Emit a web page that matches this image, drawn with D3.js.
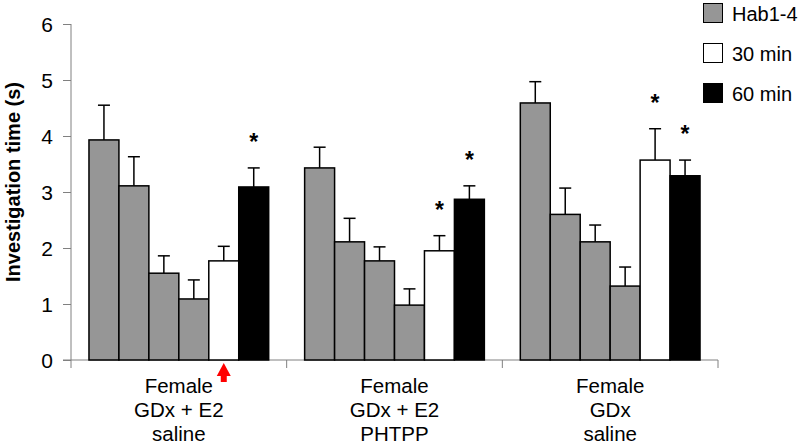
<!DOCTYPE html>
<html><head><meta charset="utf-8">
<script src="https://cdn.jsdelivr.net/npm/d3@7"></script>
<style>body{margin:0;background:#fff}svg{display:block}text{font-family:"Liberation Sans",Arial,sans-serif}</style>
</head><body><svg id="c" width="800" height="448"></svg>
<script>
const groups = ["g1","g2","g3"];
const groupLabels = [["Female","GDx + E2","saline"],["Female","GDx + E2","PHTPP"],["Female","GDx","saline"]];
const barKeys = ["h1","h2","h3","h4","m30","m60"];
const barSeries = ["Hab1-4","Hab1-4","Hab1-4","Hab1-4","30 min","60 min"];
const means = [
  [3.93,3.11,1.55,1.09,1.77,3.09],
  [3.43,2.11,1.77,0.98,1.95,2.87],
  [4.59,2.60,2.11,1.32,3.57,3.29]
];
const errs = [
  [0.62,0.52,0.31,0.34,0.26,0.34],
  [0.37,0.42,0.25,0.29,0.27,0.24],
  [0.38,0.47,0.30,0.34,0.56,0.28]
];
const stars = [
  [false,false,false,false,false,true],
  [false,false,false,false,true,true],
  [false,false,false,false,true,true]
];
const yTicks = [0,1,2,3,4,5,6];
const legendItems = ["Hab1-4","30 min","60 min"];
const colors = {"Hab1-4":"#969696","30 min":"#ffffff","60 min":"#000000"};

const svg = d3.select("#c");
const x0 = d3.scaleBand().domain(groups).range([71,718]);
const x1 = d3.scaleBand().domain(barKeys).range([0,x0.bandwidth()]).paddingOuter(0.6).paddingInner(0);
const y = d3.scaleLinear().domain([0,6]).range([360,24]);

// y axis
const ya = svg.append("g").attr("transform","translate(71,0)")
  .call(d3.axisLeft(y).tickValues(yTicks).tickSize(8).tickPadding(10).tickFormat(d3.format("d")));
ya.select(".domain").remove();
ya.selectAll(".tick line").attr("stroke","#808080");
ya.selectAll("text").attr("font-size",21).attr("fill","#000").attr("dy","0.36em").attr("font-family","Liberation Sans, Arial, sans-serif");
svg.append("line").attr("x1",71).attr("x2",71).attr("y1",y(6)).attr("y2",368).attr("stroke","#808080");

// x axis
svg.append("line").attr("x1",63).attr("x2",x0.range()[1]).attr("y1",y(0)).attr("y2",y(0)).attr("stroke","#808080");
groups.forEach(g=>{
  const xe = x0(g)+x0.bandwidth();
  svg.append("line").attr("x1",xe).attr("x2",xe).attr("y1",y(0)).attr("y2",368).attr("stroke","#808080");
});

// bars
groups.forEach((g,gi)=>{
  const gg = svg.append("g").attr("transform",`translate(${x0(g)},0)`);
  barKeys.forEach((k,bi)=>{
    const v = means[gi][bi], e = errs[gi][bi];
    const bx = x1(k), bw = x1.bandwidth(), cx = bx+bw/2;
    gg.append("line").attr("x1",cx).attr("x2",cx).attr("y1",y(v)).attr("y2",y(v+e)).attr("stroke","#000").attr("stroke-width",1.5);
    gg.append("line").attr("x1",cx-6).attr("x2",cx+6).attr("y1",y(v+e)).attr("y2",y(v+e)).attr("stroke","#000").attr("stroke-width",1.5);
    gg.append("rect").attr("x",bx).attr("y",y(v)).attr("width",bw).attr("height",y(0)-y(v))
      .attr("fill",colors[barSeries[bi]]).attr("stroke","#000").attr("stroke-width",1.5);
    if(stars[gi][bi]){
      gg.append("text").attr("x",cx).attr("y",y(v+e)-18).attr("text-anchor","middle")
        .attr("font-size",23).attr("font-weight","bold").text("*");
    }
  });
  const lines = groupLabels[gi];
  const tx = svg.append("text").attr("text-anchor","middle").attr("font-size",20.5).attr("fill","#000");
  lines.forEach((l,li)=>{
    tx.append("tspan").attr("x",x0(g)+x0.bandwidth()/2).attr("y",393+li*24).text(l);
  });
});

// red arrow under 30 min bar of group 1
{
  const cx = x0(groups[0]) + x1(barKeys[4]) + x1.bandwidth()/2;
  svg.append("path").attr("d",`M${cx},363 L${cx+7},376 L${cx+3},376 L${cx+3},382 L${cx-3},382 L${cx-3},376 L${cx-7},376 Z`).attr("fill","#ff0000");
}

// y title
svg.append("text").attr("transform","translate(20,182) rotate(-90)").attr("text-anchor","middle")
  .attr("font-size",20).attr("font-weight","bold").text("Investigation time (s)");

// legend
const lg = svg.append("g");
legendItems.forEach((s,i)=>{
  lg.append("rect").attr("x",703.5).attr("y",3.5+i*40).attr("width",19).attr("height",19)
    .attr("fill",colors[s]).attr("stroke","#000").attr("stroke-width",1);
  lg.append("text").attr("x",732).attr("y",21+i*40).attr("font-size",20).text(s);
});
</script></body></html>
